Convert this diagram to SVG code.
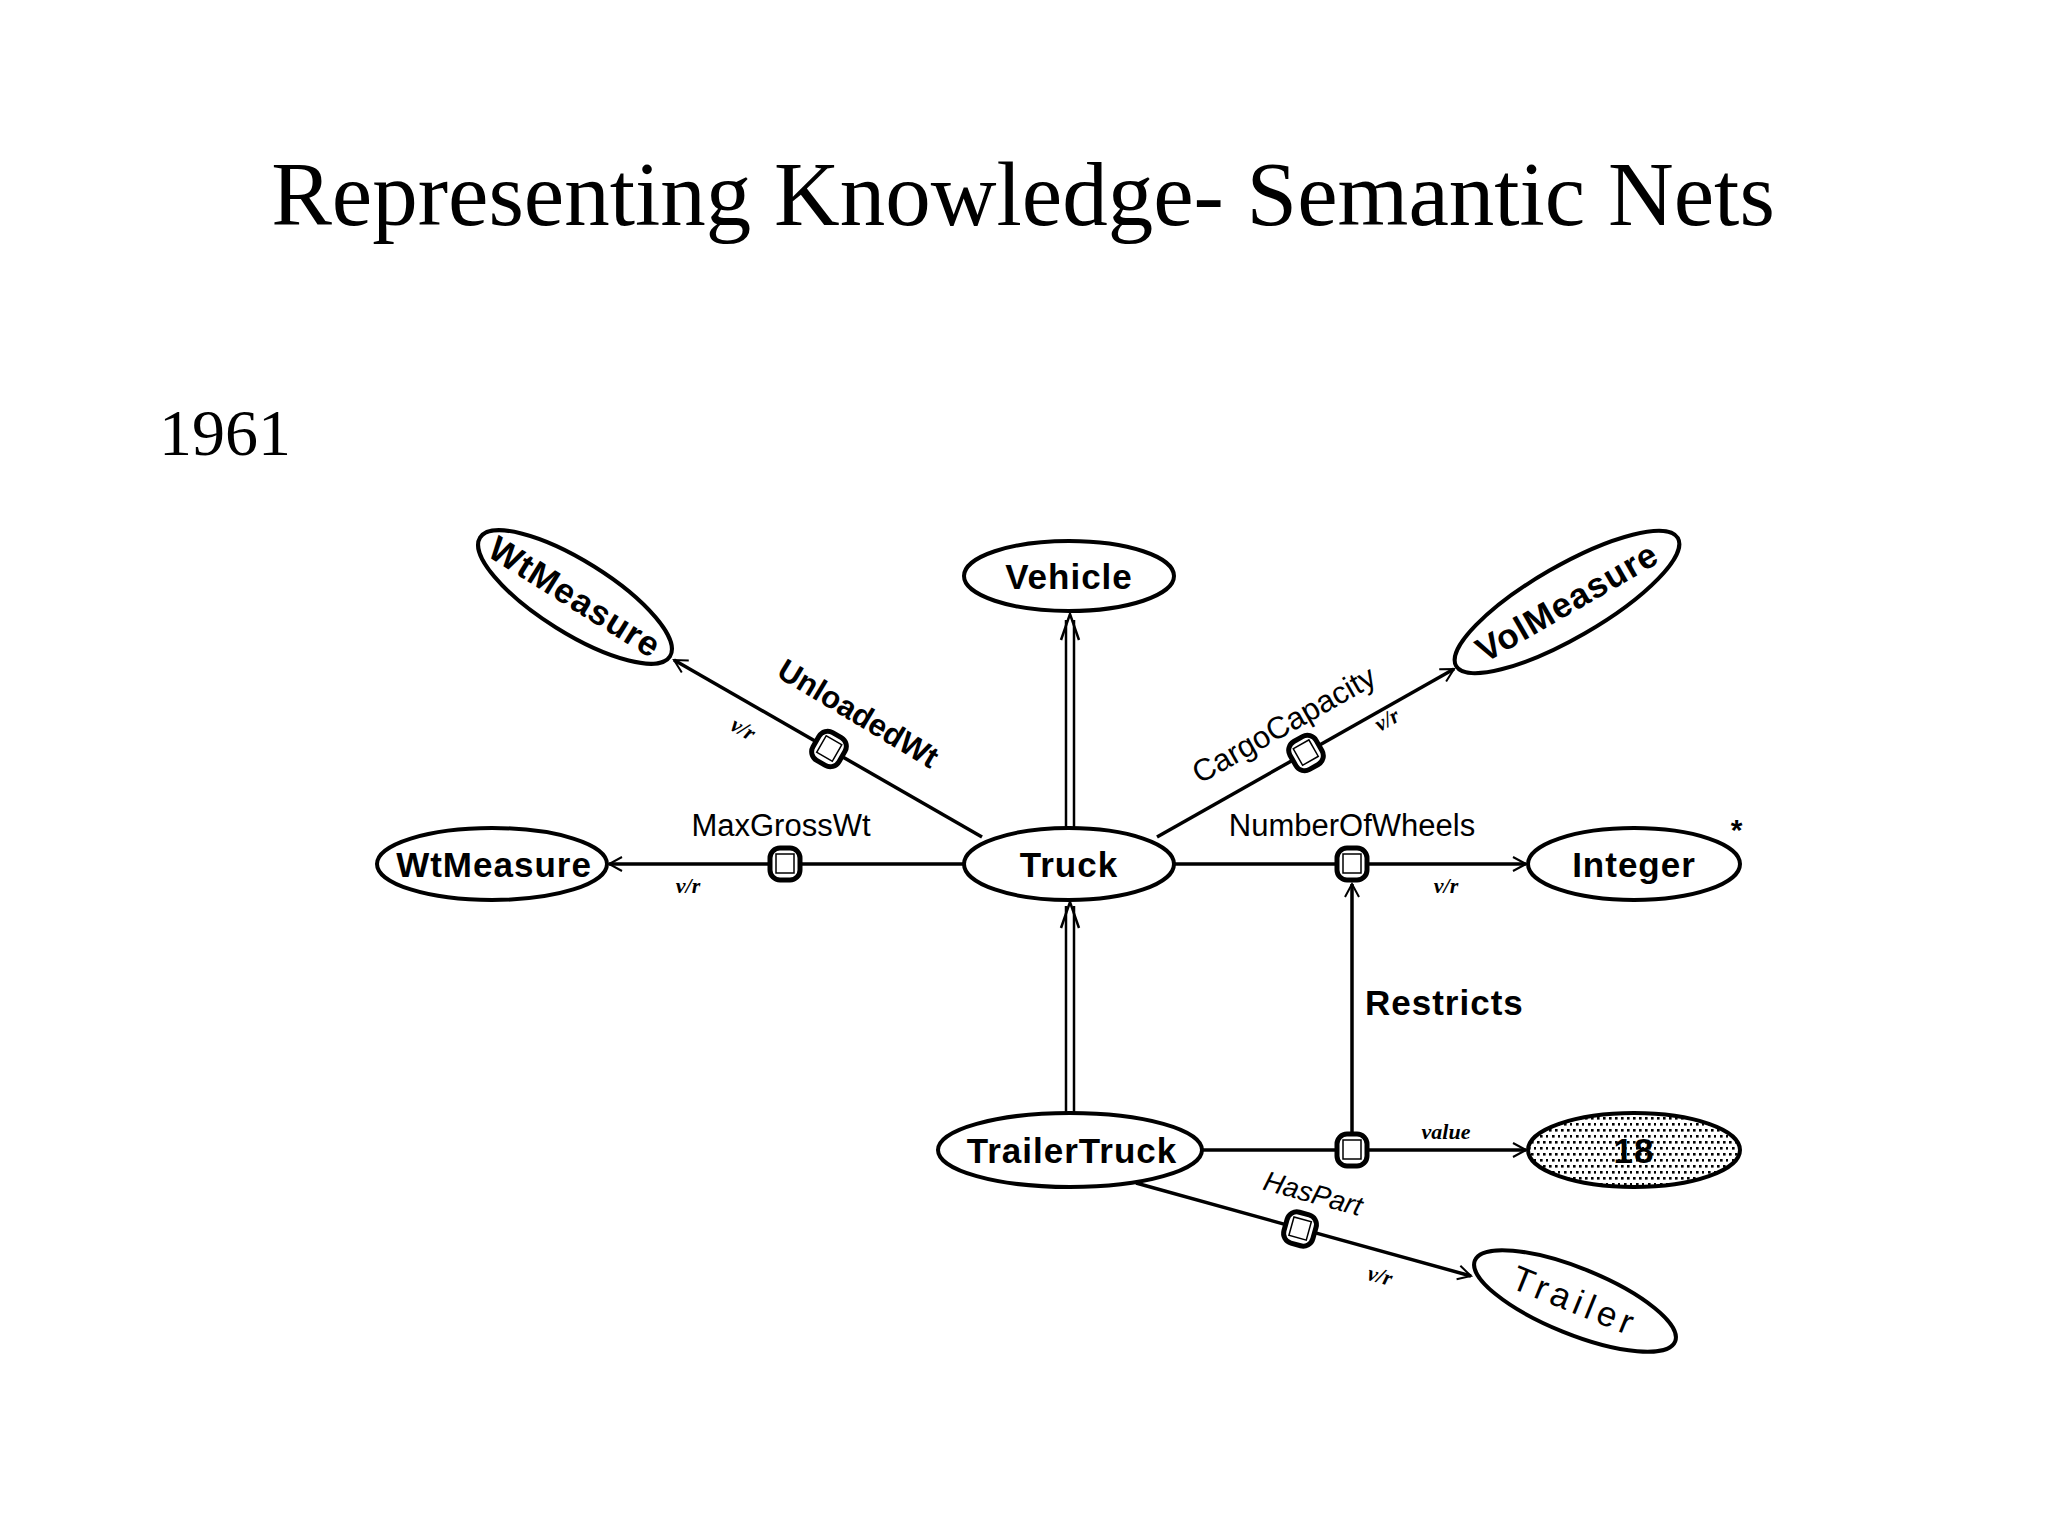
<svg xmlns="http://www.w3.org/2000/svg" width="2048" height="1536" viewBox="0 0 2048 1536">
<style>
.bg{fill:#fff}
.title{font-family:"Liberation Serif","Times New Roman",serif;fill:#000}
.node{fill:#fff;stroke:#000;stroke-width:4}
.nt{font-family:"Liberation Sans",Arial,sans-serif;font-weight:bold;font-size:35px;fill:#000;text-anchor:middle;letter-spacing:1px}
.el{font-family:"Liberation Sans",Arial,sans-serif;font-size:31px;fill:#000;text-anchor:middle}
.vr{font-family:"Liberation Serif","Times New Roman",serif;font-style:italic;font-weight:bold;font-size:22px;fill:#000;text-anchor:middle}
.ln{stroke:#000;stroke-width:3.5;fill:none}
.thin{stroke:#000;stroke-width:2.5;fill:none}
.box{fill:#fff;stroke:#000;stroke-width:5}
.inbox{fill:#fff;stroke:#000;stroke-width:1.5}
</style>
<defs>
<marker id="arr" markerUnits="userSpaceOnUse" markerWidth="16" markerHeight="18" refX="14" refY="8" orient="auto">
<path d="M1,1 L14,8 L1,15" fill="none" stroke="#000" stroke-width="2"/>
</marker>
<pattern id="dots" patternUnits="userSpaceOnUse" width="12" height="12">
<rect width="12" height="12" fill="#fff"/>
<rect x="1" y="1" width="2.6" height="2.6" fill="#000"/>
<rect x="7" y="1" width="2.6" height="2.6" fill="#000"/>
<rect x="4" y="7" width="2.6" height="2.6" fill="#000"/>
<rect x="10" y="7" width="2.6" height="2.6" fill="#000"/>
</pattern>
<g id="rbox"><rect x="-15" y="-16" width="30" height="32" rx="10" class="box"/><rect x="-9" y="-10" width="18" height="19" class="inbox"/></g>
</defs>
<rect class="bg" width="2048" height="1536"/>
<text class="title" x="1023" y="225" font-size="91" text-anchor="middle">Representing Knowledge- Semantic Nets</text>
<text class="title" x="159" y="455" font-size="66">1961</text>

<g id="connectors">
<!-- Truck -> Vehicle (double) -->
<line class="thin" x1="1066" y1="828" x2="1066" y2="620"/>
<line class="thin" x1="1074" y1="828" x2="1074" y2="620"/>
<path class="thin" d="M1061,640 L1070,614 L1079,640"/>
<!-- TrailerTruck -> Truck (double) -->
<line class="thin" x1="1066" y1="1113" x2="1066" y2="906"/>
<line class="thin" x1="1074" y1="1113" x2="1074" y2="906"/>
<path class="thin" d="M1061,928 L1070,902 L1079,928"/>
<!-- MaxGrossWt -->
<line class="ln" x1="964" y1="864" x2="609" y2="864" marker-end="url(#arr)"/>
<!-- NumberOfWheels -->
<line class="ln" x1="1175" y1="864" x2="1526" y2="864" marker-end="url(#arr)"/>
<!-- value -->
<line class="ln" x1="1203" y1="1150" x2="1526" y2="1150" marker-end="url(#arr)"/>
<!-- Restricts -->
<line class="ln" x1="1352" y1="1134" x2="1352" y2="884" marker-end="url(#arr)"/>
<!-- UnloadedWt -->
<line class="ln" x1="982" y1="837" x2="674" y2="660" marker-end="url(#arr)"/>
<!-- CargoCapacity -->
<line class="ln" x1="1157" y1="837" x2="1454" y2="669" marker-end="url(#arr)"/>
<!-- HasPart -->
<line class="ln" x1="1136" y1="1183" x2="1471" y2="1276" marker-end="url(#arr)"/>
<!-- relation boxes -->
<use href="#rbox" x="785" y="864"/>
<use href="#rbox" x="1352" y="864"/>
<use href="#rbox" x="1352" y="1150"/>
<use href="#rbox" transform="translate(829,749) rotate(30)"/>
<use href="#rbox" transform="translate(1306,753) rotate(-29.5)"/>
<use href="#rbox" transform="translate(1300,1229) rotate(15.5)"/>
<!-- labels -->
<text class="el" x="781" y="836">MaxGrossWt</text>
<text class="vr" x="688" y="893">v/r</text>
<text class="el" x="1352" y="836" font-size="30">NumberOfWheels</text>
<text class="vr" x="1446" y="893">v/r</text>
<text class="vr" x="1446" y="1139" font-size="25">value</text>
<text class="nt" x="1365" y="1015" style="text-anchor:start">Restricts</text>
<text class="el" style="font-weight:bold" transform="translate(858,714) rotate(31)" y="10">UnloadedWt</text>
<text class="vr" transform="translate(743,729) rotate(30)" y="7">v/r</text>
<text class="el" transform="translate(1284,725) rotate(-29.5)" y="10">CargoCapacity</text>
<text class="vr" transform="translate(1387,720) rotate(-29.5)" y="7">v/r</text>
<text class="el" style="font-style:italic;font-size:28px" transform="translate(1313,1194) rotate(15.5)" y="9">HasPart</text>
<text class="vr" transform="translate(1380,1276) rotate(15.5)" y="7">v/r</text>
</g>

<g id="node-vehicle">
<ellipse class="node" cx="1069" cy="576" rx="105" ry="35"/>
<text class="nt" x="1069" y="589">Vehicle</text>
</g>
<g id="node-truck">
<ellipse class="node" cx="1069" cy="864" rx="105" ry="36"/>
<text class="nt" x="1069" y="877">Truck</text>
</g>
<g id="node-wtmeasure-left">
<ellipse class="node" cx="492" cy="864" rx="115" ry="36"/>
<text class="nt" x="494" y="877">WtMeasure</text>
</g>
<g id="node-integer">
<ellipse class="node" cx="1634" cy="864" rx="106" ry="36"/>
<text class="nt" x="1634" y="877">Integer</text>
<text class="nt" x="1737" y="840" style="font-size:30px">*</text>
</g>
<g id="node-trailertruck">
<ellipse class="node" cx="1070" cy="1150" rx="132" ry="37"/>
<text class="nt" x="1072" y="1163">TrailerTruck</text>
</g>
<g id="node-18">
<ellipse cx="1634" cy="1150" rx="106" ry="37" fill="url(#dots)" stroke="#000" stroke-width="4"/>
<text class="nt" x="1634" y="1163">18</text>
</g>
<g id="node-wtmeasure-top" transform="translate(575,597) rotate(32)">
<ellipse class="node" cx="0" cy="0" rx="112" ry="36"/>
<text class="nt" x="0" y="12">WtMeasure</text>
</g>
<g id="node-volmeasure" transform="translate(1567,602) rotate(-30)">
<ellipse class="node" cx="0" cy="0" rx="128" ry="36"/>
<text class="nt" x="0" y="12">VolMeasure</text>
</g>
<g id="node-trailer" transform="translate(1575,1301) rotate(22)">
<ellipse class="node" cx="0" cy="0" rx="108" ry="33"/>
<text class="nt" x="0" y="12" style="font-weight:normal;letter-spacing:5px">Trailer</text>
</g>
</svg>
